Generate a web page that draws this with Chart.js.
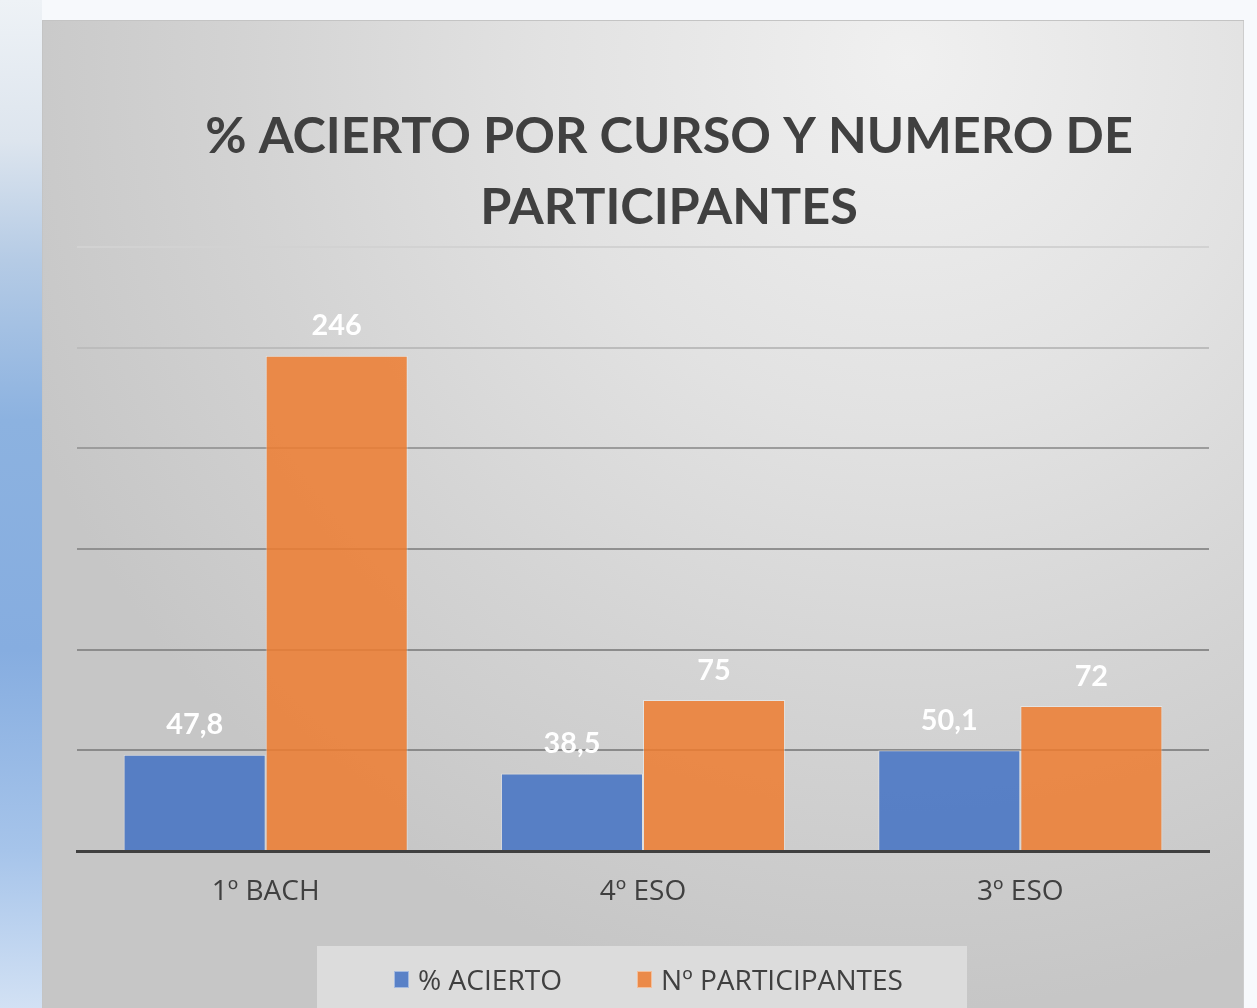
<!DOCTYPE html>
<html><head><meta charset="utf-8">
<script src="https://cdn.jsdelivr.net/npm/chart.js@4.4.1/dist/chart.umd.min.js"></script>
<style>
html,body{margin:0;padding:0;width:1257px;height:1008px;overflow:hidden;background:#f7f9fc;}
#bgLeft{position:absolute;left:0;top:0;width:42px;height:1008px;background:linear-gradient(to bottom,#eef2f6 0px,#dde5ee 140px,#b5cbe5 260px,#8cb2e0 420px,#86ade0 650px,#a6c4ea 850px,#d2e1f4 1008px);}
#box{position:absolute;left:42px;top:20px;width:1202px;height:988px;
 background:radial-gradient(ellipse 950px 950px at 72% 4%, #f0f0f0 0%, #e2e2e2 38%, #d3d3d3 70%, #c6c6c6 100%);
 box-shadow:inset 1px 1px 0 #c4c4c4, inset -1px 0 0 #cdcdcd;}
canvas{position:absolute;left:0;top:0}
</style></head>
<body>
<div id="bgLeft"></div>
<div id="box"><canvas id="c" width="1202" height="988"></canvas></div>
<script>
const categories = ['1º BACH', '4º ESO', '3º ESO'];
const seriesNames = ['% ACIERTO', 'Nº PARTICIPANTES'];
const acierto = [47.8, 38.5, 50.1];
const participantes = [246, 75, 72];
const yTickValues = [0, 50, 100, 150, 200, 250, 300];
const titleLines = ['% ACIERTO POR CURSO Y NUMERO DE', 'PARTICIPANTES'];

const FAMILY = 'Lato, "Open Sans", sans-serif';
const FAMILY2 = '"Open Sans", Lato, sans-serif';
const TEXT = '#404040';
const seriesColors = ['rgba(68,114,196,0.86)', 'rgba(237,125,49,0.86)'];
const gridColors = {0: 'rgba(0,0,0,0)', 50: '#8a8a8a', 100: '#8c8c8c', 150: '#909090', 200: '#9c9c9c', 250: '#bcbcbc', 300: '#d2d2d2'};

function start() {
  const mctx = document.createElement('canvas').getContext('2d');
  function fit(text, weight, family, target) {
    mctx.font = weight + ' 100px ' + family;
    return 100 * target / mctx.measureText(text).width;
  }
  const titleSize = fit(titleLines[0], 'bold', FAMILY, 928);
  const tickSize = fit(categories[0], 'normal', FAMILY2, 108);
  const legendSize = fit(seriesNames[1], 'normal', FAMILY2, 242);
  const labelSize = fit('47,8', 'bold', FAMILY, 57);
  const fmt = v => String(v).replace('.', ',');

  function capText(ctx, text, x, cy) {
    const h = ctx.measureText('H').actualBoundingBoxAscent;
    ctx.textBaseline = 'alphabetic';
    ctx.fillText(text, x, cy + h / 2);
  }

  const deco = {
    id: 'deco',
    afterDatasetsDraw(chart) {
      const ctx = chart.ctx;
      ctx.save();
      ctx.fillStyle = '#ffffff';
      ctx.font = 'bold ' + labelSize + 'px ' + FAMILY;
      ctx.textAlign = 'center';
      chart.data.datasets.forEach((ds, i) => {
        chart.getDatasetMeta(i).data.forEach((bar, j) => {
          capText(ctx, fmt(ds.data[j]), bar.x, bar.y - 31);
        });
      });
      ctx.restore();
    },
    afterDraw(chart) {
      const ctx = chart.ctx;
      ctx.save();
      // title
      ctx.fillStyle = TEXT;
      ctx.font = 'bold ' + titleSize + 'px ' + FAMILY;
      ctx.textAlign = 'center';
      capText(ctx, titleLines[0], 627, 114.5);
      capText(ctx, titleLines[1], 627, 185.5);
      // legend
      ctx.fillStyle = '#dcdcdc';
      ctx.fillRect(275, 926, 650, 62);
      ctx.font = legendSize + 'px ' + FAMILY2;
      ctx.textAlign = 'left';
      const xs = [352, 595];
      chart.data.datasets.forEach((ds, i) => {
        ctx.fillStyle = ds.backgroundColor;
        ctx.fillRect(xs[i], 951, 15, 17);
        ctx.strokeStyle = 'rgba(255,255,255,0.45)';
        ctx.lineWidth = 1;
        ctx.strokeRect(xs[i] + 0.5, 951.5, 14, 16);
        ctx.fillStyle = TEXT;
        capText(ctx, ds.label, xs[i] + 24, 960);
      });
      ctx.restore();
    }
  };

  new Chart(document.getElementById('c'), {
    type: 'bar',
    data: {
      labels: categories,
      datasets: [
        {label: seriesNames[0], data: acierto, backgroundColor: seriesColors[0], borderColor: 'rgba(255,255,255,0.4)', borderWidth: 1},
        {label: seriesNames[1], data: participantes, backgroundColor: seriesColors[1], borderColor: 'rgba(255,255,255,0.4)', borderWidth: 1}
      ]
    },
    options: {
      responsive: false,
      animation: false,
      layout: {padding: {left: 35, right: 35, top: 227, bottom: 0}},
      datasets: {bar: {categoryPercentage: 0.753, barPercentage: 1.0}},
      plugins: {legend: {display: false}, title: {display: false}, tooltip: {enabled: false}},
      scales: {
        x: {
          z: 1,
          grid: {display: false, drawTicks: false},
          border: {display: true, color: '#404040', width: 3},
          ticks: {color: TEXT, font: {family: FAMILY2, size: tickSize}, padding: 41 - tickSize * 0.6},
          afterFit: s => { s.height = 157; }
        },
        y: {
          min: 0, max: 300,
          afterBuildTicks: s => { s.ticks = yTickValues.map(v => ({value: v})); },
          ticks: {display: false},
          border: {display: false},
          grid: {drawTicks: false, lineWidth: 2, color: c => gridColors[c.tick.value] || '#8c8c8c'},
          afterFit: s => { s.width = 0; }
        }
      }
    },
    plugins: [deco]
  });
}
if (document.fonts && document.fonts.load) {
  Promise.all([document.fonts.load('bold 40px Lato'), document.fonts.load('40px Lato'), document.fonts.load('40px "Open Sans"')]).then(start, start);
} else { start(); }
</script>
</body></html>
